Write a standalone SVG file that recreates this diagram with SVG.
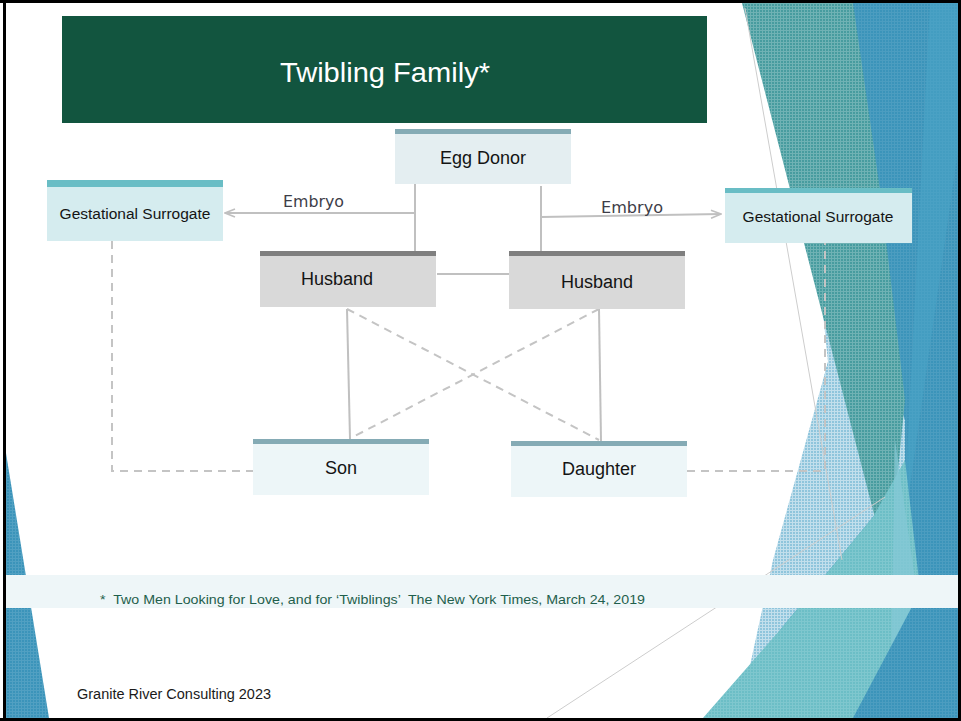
<svg xmlns="http://www.w3.org/2000/svg" width="961" height="721" viewBox="0 0 961 721">
  <defs>
    <style>
      .lbl { font-family: "Liberation Sans", Arial, sans-serif; font-size: 18px; fill: #141414; text-anchor: middle; }
      .lbl-sm { font-family: "Liberation Sans", Arial, sans-serif; font-size: 15.5px; fill: #141414; text-anchor: middle; }
      .edge-label { font-family: "DejaVu Sans", Verdana, sans-serif; font-size: 16px; fill: #3d3d47; }
      .solid { stroke: #c0c0c0; stroke-width: 2; fill: none; }
      .dash { stroke: #c4c4c4; stroke-width: 2; fill: none; stroke-dasharray: 8 6; }
      .thin { stroke: #cdcdcd; stroke-width: 1; fill: none; }
    </style>
    <!-- fine grid texture laid over the facet shapes -->
    <pattern id="grain" width="3" height="3" patternUnits="userSpaceOnUse">
      <rect x="0" y="0" width="3" height="1" fill="#ffffff" opacity="0.22"/>
      <rect x="0" y="1" width="1" height="2" fill="#ffffff" opacity="0.22"/>
    </pattern>
    <pattern id="grainLight" width="3" height="3" patternUnits="userSpaceOnUse">
      <rect x="0" y="0" width="3" height="3" fill="#8fc5dc"/>
      <rect x="0" y="0" width="3" height="1" fill="#ffffff" opacity="0.45"/>
      <rect x="0" y="1" width="1" height="2" fill="#ffffff" opacity="0.45"/>
    </pattern>
    <marker id="chev" viewBox="0 0 12 10" markerWidth="12" markerHeight="10" refX="11" refY="5" orient="auto" markerUnits="userSpaceOnUse">
      <path d="M1,1 L11,5 L1,9" fill="none" stroke="#c0c0c0" stroke-width="1.6"/>
    </marker>
  </defs>

  <!-- slide background -->
  <rect x="0" y="0" width="961" height="721" fill="#ffffff"/>

  <!-- facet decoration, right side -->
  <g id="facets">
    <polygon points="853,3 958,3 958,718 742,718 742,700 828,362 840,245" fill="#3b94ba"/>
    <polygon points="853,3 958,3 958,718 742,718 742,700 828,362 840,245" fill="url(#grain)" opacity="0.4"/>
    <polygon points="930,3 958,3 958,150 903,535" fill="#4aa4c6" opacity="0.6"/>
    <polygon points="816,245 845,245 905,420 905,470 873,517 780,630 742,702 773,560 828,362" fill="url(#grainLight)"/>
    <polygon points="742,3 853,3 880,190 905,400 888,568" fill="#479c9f"/>
    <polygon points="742,3 853,3 880,190 905,400 888,568" fill="url(#grain)"/>
    <polygon points="703,718 780,630 873,517 905,460 935,718" fill="#6cbec6"/>
    <polygon points="703,718 780,630 873,517 905,460 935,718" fill="url(#grain)" opacity="0.6"/>
    <polygon points="895,440 935,718 890,718" fill="#84c8d6" opacity="0.75"/>
    <polygon points="853,718 958,520 958,718" fill="#3b94ba"/>
    <polygon points="853,718 958,520 958,718" fill="url(#grain)" opacity="0.4"/>
    <line class="thin" x1="745" y1="8" x2="842" y2="560"/>
    <line class="thin" x1="547" y1="718" x2="885" y2="497"/>
  </g>

  <!-- facet decoration, lower left -->
  <g id="facet-left">
    <polygon points="5,447 49,718 5,718" fill="#3b94ba"/>
    <polygon points="5,447 49,718 5,718" fill="url(#grain)" opacity="0.5"/>
  </g>

  <!-- footnote band -->
  <g id="footnote">
    <rect x="5" y="575" width="956" height="33" fill="#eef6f8"/>
    <text x="100" y="604" font-family="'Liberation Sans', Arial, sans-serif" font-size="13.5" fill="#1f5f4c" textLength="545" lengthAdjust="spacingAndGlyphs" xml:space="preserve">*  Two Men Looking for Love, and for ‘Twiblings’  The New York Times, March 24, 2019</text>
  </g>

  <!-- title banner -->
  <g id="title">
    <rect x="62" y="16" width="645" height="107" fill="#12553f"/>
    <text x="385" y="82" font-family="'Liberation Sans', Arial, sans-serif" font-size="28" fill="#ffffff" text-anchor="middle" textLength="210" lengthAdjust="spacingAndGlyphs">Twibling Family*</text>
  </g>

  <!-- connectors -->
  <g id="connectors">
    <line class="solid" x1="415" y1="184" x2="415" y2="251"/>
    <line class="solid" x1="415" y1="213" x2="225" y2="213" marker-end="url(#chev)"/>
    <line class="solid" x1="541" y1="186" x2="541" y2="251"/>
    <line class="solid" x1="541" y1="217" x2="721" y2="214" marker-end="url(#chev)"/>
    <line class="solid" x1="437" y1="274" x2="510" y2="274"/>
    <line class="solid" x1="347" y1="309" x2="350" y2="439"/>
    <line class="solid" x1="599" y1="309" x2="601" y2="441"/>
    <line class="dash" x1="347" y1="309" x2="599" y2="440"/>
    <line class="dash" x1="599" y1="309" x2="351" y2="438"/>
    <polyline class="dash" points="112,241 112,471 253,471"/>
    <polyline class="dash" points="687,471 825,471 825,243"/>
    <text class="edge-label" x="283" y="207" textLength="61" lengthAdjust="spacingAndGlyphs">Embryo</text>
    <text class="edge-label" x="601" y="213" textLength="62" lengthAdjust="spacingAndGlyphs">Embryo</text>
  </g>

  <!-- nodes -->
  <g id="egg-donor">
    <rect x="395" y="129" width="176" height="55" fill="#e4eef1"/>
    <rect x="395" y="129" width="176" height="5" fill="#85abb5"/>
    <text class="lbl" x="483" y="164">Egg Donor</text>
  </g>
  <g id="surrogate-left">
    <rect x="47" y="180" width="176" height="61" fill="#d5ecef"/>
    <rect x="47" y="180" width="176" height="7" fill="#69bdc5"/>
    <text class="lbl-sm" x="135" y="219">Gestational Surrogate</text>
  </g>
  <g id="surrogate-right">
    <rect x="725" y="188" width="187" height="55" fill="#d5ecef"/>
    <rect x="725" y="188" width="187" height="5" fill="#69bdc5"/>
    <text class="lbl-sm" x="818" y="222">Gestational Surrogate</text>
  </g>
  <g id="husband-left">
    <rect x="260" y="251" width="176" height="56" fill="#d9d9d9"/>
    <rect x="260" y="251" width="176" height="5" fill="#7f7f7f"/>
    <text class="lbl" x="337" y="285">Husband</text>
  </g>
  <g id="husband-right">
    <rect x="509" y="251" width="176" height="58" fill="#d9d9d9"/>
    <rect x="509" y="251" width="176" height="5" fill="#7f7f7f"/>
    <text class="lbl" x="597" y="288">Husband</text>
  </g>
  <g id="son">
    <rect x="253" y="439" width="176" height="56" fill="#edf6f8"/>
    <rect x="253" y="439" width="176" height="5" fill="#85abb5"/>
    <text class="lbl" x="341" y="474">Son</text>
  </g>
  <g id="daughter">
    <rect x="511" y="441" width="176" height="56" fill="#edf6f8"/>
    <rect x="511" y="441" width="176" height="5" fill="#85abb5"/>
    <text class="lbl" x="599" y="475">Daughter</text>
  </g>

  <!-- footer -->
  <text x="77" y="699" font-family="'Liberation Sans', Arial, sans-serif" font-size="14" fill="#1a1a1a" textLength="194" lengthAdjust="spacingAndGlyphs">Granite River Consulting 2023</text>

  <!-- slide frame -->
  <g id="frame" fill="#000000">
    <rect x="0" y="0" width="961" height="3"/>
    <rect x="0" y="718" width="961" height="3"/>
    <rect x="958" y="0" width="3" height="721"/>
    <rect x="3" y="0" width="3" height="721"/>
  </g>
</svg>
